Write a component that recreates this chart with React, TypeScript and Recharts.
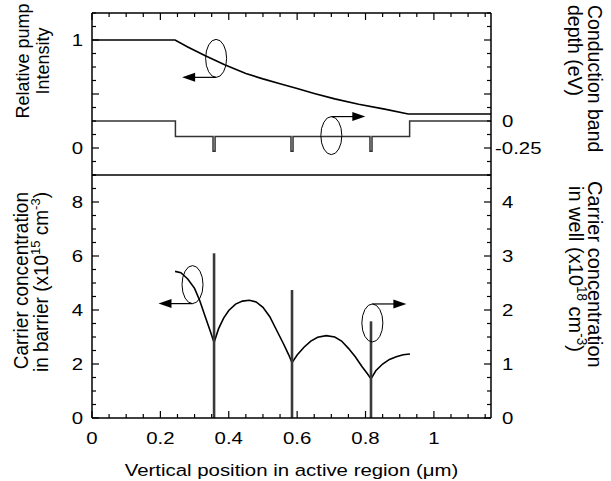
import React from "react";
import { LineChart, Line, XAxis, YAxis, ReferenceDot, ReferenceLine } from "recharts";

const FONT = '"Liberation Sans", Arial, sans-serif';
const STRETCH = "scale(1.2,1)";
const VSTRETCH = "scale(1.05,1)";

// x axis (µm)
const xTicks = [0, 0.05, 0.1, 0.15, 0.2, 0.25, 0.3, 0.35, 0.4, 0.45, 0.5, 0.55, 0.6, 0.65, 0.7, 0.75, 0.8, 0.85, 0.9, 0.95, 1, 1.05, 1.1, 1.15];
const xLabels = [0, 0.2, 0.4, 0.6, 0.8, 1];

// top panel axes
const pumpTicks = [-0.25, -0.125, 0, 0.125, 0.25, 0.375, 0.5, 0.625, 0.75, 0.875, 1, 1.125, 1.25];
const pumpLabels = [0, 1];
const pumpMajor = [0, 0.5, 1];
const bandTicks = [-0.5, -0.375, -0.25, -0.125, 0, 0.125, 0.25, 0.375, 0.5, 0.625, 0.75, 0.875, 1];
const bandLabels = [0, -0.25];
const bandMajor = [-0.25, 0.25, 0.75];

// bottom panel axes
const barrierTicks = [0, 0.5, 1, 1.5, 2, 2.5, 3, 3.5, 4, 4.5, 5, 5.5, 6, 6.5, 7, 7.5, 8, 8.5, 9];
const barrierLabels = [0, 2, 4, 6, 8];
const wellTicks = [0, 0.25, 0.5, 0.75, 1, 1.25, 1.5, 1.75, 2, 2.25, 2.5, 2.75, 3, 3.25, 3.5, 3.75, 4, 4.25, 4.5];
const wellLabels = [0, 1, 2, 3, 4];

// relative pump intensity
const pumpX = [0, 0.243, 0.28, 0.33, 0.388, 0.45, 0.5, 0.55, 0.6, 0.65, 0.71, 0.78, 0.856, 0.925, 1.167];
const pumpY = [1, 1, 0.935, 0.856, 0.77, 0.69, 0.64, 0.595, 0.55, 0.505, 0.455, 0.405, 0.36, 0.315, 0.315];

// conduction band depth (eV)
const bandX = [0, 0.244, 0.244, 0.354, 0.354, 0.36, 0.36, 0.582, 0.582, 0.588, 0.588, 0.813, 0.813, 0.819, 0.819, 0.929, 0.929, 1.167];
const bandE = [0, 0, -0.144, -0.144, -0.28, -0.28, -0.144, -0.144, -0.28, -0.28, -0.144, -0.144, -0.28, -0.28, -0.144, -0.144, 0, 0];

// carrier concentration in barrier (x10^15 cm^-3)
const barrierX = [0.243, 0.26, 0.28, 0.3, 0.315, 0.33, 0.345, 0.357, 0.37, 0.385, 0.4, 0.42, 0.44, 0.46, 0.48, 0.5, 0.52, 0.54, 0.56, 0.575, 0.585, 0.6, 0.62, 0.64, 0.66, 0.685, 0.71, 0.73, 0.75, 0.77, 0.79, 0.805, 0.816, 0.83, 0.85, 0.87, 0.89, 0.91, 0.93];
const barrierY = [5.43, 5.38, 5.15, 4.8, 4.35, 3.8, 3.25, 2.8, 3.3, 3.7, 3.98, 4.22, 4.33, 4.36, 4.3, 4.1, 3.75, 3.25, 2.75, 2.35, 2.05, 2.33, 2.62, 2.85, 2.99, 3.05, 3.0, 2.85, 2.58, 2.27, 1.9, 1.65, 1.45, 1.75, 2.0, 2.17, 2.27, 2.34, 2.37];

// carrier concentration in wells (x10^18 cm^-3)
const wellX = [0.357, 0.585, 0.816];
const wellN = [3.05, 2.37, 1.79];

const pumpData = pumpX.map((x, i) => ({ x, y: pumpY[i] }));
const bandData = bandX.map((x, i) => ({ x, y: bandE[i] }));
const barrierData = barrierX.map((x, i) => ({ x, y: barrierY[i] }));
const wellData = wellX.map((x, i) => [{ x, y: 0 }, { x, y: wellN[i] }]);

// ellipse + arrow callouts (data coordinates)
const topNotes = [
    { x: 0.363, y: 0.83, axis: "pump", side: "bottom", dir: -1 },
    { x: 0.7, y: -0.135, axis: "band", side: "top", dir: 1 },
];
const bottomNotes = [
    { x: 0.294, y: 4.94, axis: "barrier", side: "bottom", dir: -1 },
    { x: 0.82, y: 1.76, axis: "well", side: "top", dir: 1 },
];

const near = (list: number[], v: number) => list.some((t) => Math.abs(t - v) < 1e-6);

const label = (x: number, y: number, anchor: string, v: number) => (
    <text
        transform={`translate(${x},${y}) ${STRETCH}`}
        textAnchor={anchor}
        fontSize={17}
        fontFamily={FONT}
        fill="#000"
    >
        {String(v)}
    </text>
);

const leftTick = (labels: number[], majors: number[]) => (p: any) => {
    const v = p.payload.value;
    const len = near(majors, v) ? 7 : 4;
    return (
        <g>
            <line x1={p.x} y1={p.y} x2={p.x + len} y2={p.y} stroke="#000" strokeWidth={1.2} />
            {near(labels, v) && label(p.x - 9, p.y + 6, "end", v)}
        </g>
    );
};

const rightTick = (labels: number[], majors: number[]) => (p: any) => {
    const v = p.payload.value;
    const len = near(majors, v) ? 7 : 4;
    return (
        <g>
            <line x1={p.x} y1={p.y} x2={p.x - len} y2={p.y} stroke="#000" strokeWidth={1.2} />
            {near(labels, v) && label(p.x + (v < 0 ? 4 : 11), p.y + 6, "start", v)}
        </g>
    );
};

const bottomTick = (p: any) => {
    const v = p.payload.value;
    const len = near(xLabels, v) ? 7 : 4;
    return (
        <g>
            <line x1={p.x} y1={p.y} x2={p.x} y2={p.y - len} stroke="#000" strokeWidth={1.2} />
            {near(xLabels, v) && label(p.x, p.y + 25.5, "middle", v)}
        </g>
    );
};

const topTick = (p: any) => {
    const v = p.payload.value;
    const len = near(xLabels, v) ? 7 : 4;
    return <line x1={p.x} y1={p.y} x2={p.x} y2={p.y + len} stroke="#000" strokeWidth={1.2} />;
};

const Callout = ({ cx, cy, side, dir }: any) => {
    const ay = side === "top" ? cy - 19 : cy + 19;
    const tip = cx + dir * 34;
    return (
        <g>
            <ellipse cx={cx} cy={cy} rx={10.5} ry={19} fill="none" stroke="#000" strokeWidth={1} />
            <line x1={cx} y1={ay} x2={tip - dir * 12} y2={ay} stroke="#000" strokeWidth={1.2} />
            <polygon points={`${tip},${ay} ${tip - dir * 13},${ay - 4.5} ${tip - dir * 13},${ay + 4.5}`} fill="#000" />
        </g>
    );
};

const axisLine = { stroke: "#000", strokeWidth: 1.5 };

export default function App() {
    return (
        <div style={{ position: "absolute", left: 0, top: 0, width: 611, height: 481, background: "#fff" }}>
            <div style={{ position: "absolute", left: 0, top: 0 }}>
                <LineChart width={611} height={180} margin={{ top: 12, right: 119, bottom: 5, left: 91 }}>
                    <XAxis
                        dataKey="x"
                        type="number"
                        orientation="top"
                        domain={[0, 1.167]}
                        ticks={xTicks}
                        interval={0}
                        height={1}
                        tickSize={0}
                        tickMargin={0}
                        tickLine={false}
                        axisLine={axisLine}
                        tick={topTick}
                    />
                    <YAxis
                        yAxisId="pump"
                        type="number"
                        domain={[-0.25, 1.25]}
                        ticks={pumpTicks}
                        interval={0}
                        width={1}
                        tickSize={0}
                        tickMargin={0}
                        tickLine={false}
                        axisLine={axisLine}
                        tick={leftTick(pumpLabels, pumpMajor)}
                    />
                    <YAxis
                        yAxisId="band"
                        orientation="right"
                        type="number"
                        domain={[-0.5, 1]}
                        ticks={bandTicks}
                        interval={0}
                        width={1}
                        tickSize={0}
                        tickMargin={0}
                        tickLine={false}
                        axisLine={axisLine}
                        tick={rightTick(bandLabels, bandMajor)}
                    />
                    <Line
                        yAxisId="pump"
                        data={pumpData}
                        dataKey="y"
                        type="linear"
                        stroke="#000"
                        strokeWidth={1.6}
                        dot={false}
                        activeDot={false}
                        isAnimationActive={false}
                    />
                    <Line
                        yAxisId="band"
                        data={bandData}
                        dataKey="y"
                        type="linear"
                        stroke="#333"
                        strokeWidth={1.5}
                        dot={false}
                        activeDot={false}
                        isAnimationActive={false}
                    />
                    {topNotes.map((n, i) => (
                        <ReferenceDot
                            key={i}
                            x={n.x}
                            y={n.y}
                            yAxisId={n.axis}
                            r={0}
                            ifOverflow="visible"
                            shape={(p: any) => <Callout cx={p.cx} cy={p.cy} side={n.side} dir={n.dir} />}
                        />
                    ))}
                </LineChart>
            </div>
            <div style={{ position: "absolute", left: 0, top: 165 }}>
                <LineChart width={611} height={316} margin={{ top: 10, right: 119, bottom: 0, left: 91 }}>
                    <XAxis
                        dataKey="x"
                        type="number"
                        domain={[0, 1.167]}
                        ticks={xTicks}
                        interval={0}
                        height={63}
                        tickSize={0}
                        tickMargin={0}
                        tickLine={false}
                        axisLine={axisLine}
                        tick={bottomTick}
                    />
                    <YAxis
                        yAxisId="barrier"
                        type="number"
                        domain={[0, 9]}
                        ticks={barrierTicks}
                        interval={0}
                        width={1}
                        tickSize={0}
                        tickMargin={0}
                        tickLine={false}
                        axisLine={axisLine}
                        tick={leftTick(barrierLabels, barrierLabels)}
                    />
                    <YAxis
                        yAxisId="well"
                        orientation="right"
                        type="number"
                        domain={[0, 4.5]}
                        ticks={wellTicks}
                        interval={0}
                        width={1}
                        tickSize={0}
                        tickMargin={0}
                        tickLine={false}
                        axisLine={axisLine}
                        tick={rightTick(wellLabels, wellLabels)}
                    />
                    <ReferenceLine yAxisId="barrier" y={9} stroke="#000" strokeWidth={1.5} ifOverflow="visible" />
                    <Line
                        yAxisId="barrier"
                        data={barrierData}
                        dataKey="y"
                        type="linear"
                        stroke="#000"
                        strokeWidth={1.6}
                        dot={false}
                        activeDot={false}
                        isAnimationActive={false}
                    />
                    {wellData.map((d, i) => (
                        <Line
                            key={i}
                            yAxisId="well"
                            data={d}
                            dataKey="y"
                            type="linear"
                            stroke="#3a3a3a"
                            strokeWidth={2.6}
                            dot={false}
                            activeDot={false}
                            isAnimationActive={false}
                        />
                    ))}
                    {bottomNotes.map((n, i) => (
                        <ReferenceDot
                            key={i}
                            x={n.x}
                            y={n.y}
                            yAxisId={n.axis}
                            r={0}
                            ifOverflow="visible"
                            shape={(p: any) => <Callout cx={p.cx} cy={p.cy} side={n.side} dir={n.dir} />}
                        />
                    ))}
                </LineChart>
            </div>
            <svg
                width={611}
                height={481}
                style={{ position: "absolute", left: 0, top: 0, pointerEvents: "none" }}
                fontFamily={FONT}
                fill="#000"
            >
                <g fontSize={18}>
                    <text transform={`translate(28.5,61) ${VSTRETCH} rotate(-90)`} textAnchor="middle">Relative pump</text>
                    <text transform={`translate(48.5,61) ${VSTRETCH} rotate(-90)`} textAnchor="middle">Intensity</text>
                </g>
                <g fontSize={19}>
                    <text transform={`translate(27.5,192) ${VSTRETCH} rotate(-90)`} textAnchor="end">Carrier concentration</text>
                    <text transform={`translate(47.5,192) ${VSTRETCH} rotate(-90)`} textAnchor="end">
                        in barrier (x10<tspan dy={-7.5} fontSize={13}>15</tspan>
                        <tspan dy={7.5}> cm</tspan>
                        <tspan dy={-7.5} fontSize={13}>-3</tspan>
                        <tspan dy={7.5}>)</tspan>
                    </text>
                </g>
                <g fontSize={19.5}>
                    <text transform={`translate(588,5) ${VSTRETCH} rotate(90)`} textAnchor="start">Conduction band</text>
                    <text transform={`translate(568,5) ${VSTRETCH} rotate(90)`} textAnchor="start">depth (eV)</text>
                </g>
                <g fontSize={20}>
                    <text transform={`translate(588,181) ${VSTRETCH} rotate(90)`} textAnchor="start">Carrier concentration</text>
                    <text transform={`translate(569,186) ${VSTRETCH} rotate(90)`} textAnchor="start">
                        in well (x10<tspan dy={-8} fontSize={13.5}>18</tspan>
                        <tspan dy={8}> cm</tspan>
                        <tspan dy={-8} fontSize={13.5}>-3</tspan>
                        <tspan dy={8}>)</tspan>
                    </text>
                </g>
                <text transform={`translate(291.5,476) ${STRETCH}`} textAnchor="middle" fontSize={17}>
                    Vertical position in active region (μm)
                </text>
            </svg>
        </div>
    );
}
